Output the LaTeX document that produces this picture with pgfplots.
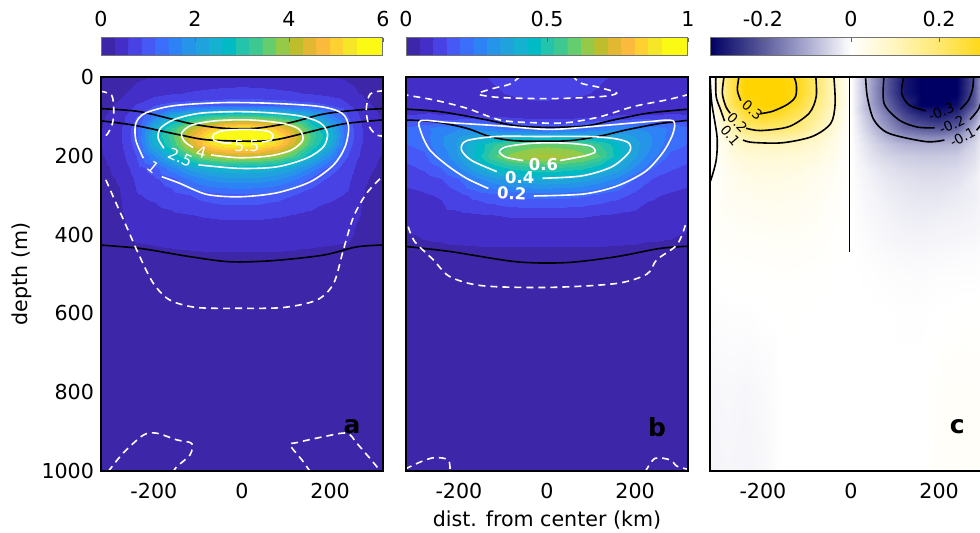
\documentclass[border=0pt]{standalone}
\usepackage{pgfplots}
\pgfplotsset{compat=1.18}
\usepackage{fontspec}
\setmainfont{DejaVu Sans}

\pgfplotsset{
  colormap={parulaB}{
    rgb255=(62,38,168) rgb255=(68,46,200) rgb255=(72,66,228) rgb255=(70,88,245)
    rgb255=(60,110,252) rgb255=(45,130,245) rgb255=(38,148,232) rgb255=(32,163,220)
    rgb255=(20,177,208) rgb255=(0,187,195) rgb255=(36,195,172) rgb255=(62,200,145)
    rgb255=(100,205,110) rgb255=(148,202,72) rgb255=(190,190,45) rgb255=(226,184,50)
    rgb255=(252,186,60) rgb255=(254,208,50) rgb255=(245,230,40) rgb255=(250,250,20)
    rgb255=(250,250,20)
  },
  colormap={bwy}{
    rgb255=(0,0,100) rgb255=(80,80,150) rgb255=(165,165,205) rgb255=(255,255,255)
    rgb255=(255,245,185) rgb255=(255,230,100) rgb255=(255,212,0)
  },
  tick label style={font=\fontsize{10.3}{12}\selectfont},
  /pgf/number format/assume math mode=true,
  /pgf/number format/1000 sep={},
  panel/.style={
    anchor=south west, scale only axis, width=141pt, height=197pt,
    xmin=-320, xmax=320, ymin=0, ymax=1000, y dir=reverse,
    xtick={-200,0,200}, ytick={0,200,400,600,800,1000},
    tick style={draw=none}, axis on top,
    axis line style={line width=0.8pt},
    xticklabel style={yshift=-2.8pt},
    colorbar horizontal,
    colorbar style={
      at={(0.5,1.0533)}, anchor=south, height=9pt,
      xticklabel pos=upper, xtick pos=upper, xtick align=inside,
      major tick length=2pt,
      tick style={draw=black!60, line width=0.4pt},
      axis line style={draw=black!55, line width=0.5pt},
      xticklabel style={yshift=2pt},
    },
  },
}
\tikzset{
  wl/.style={white, line width=0.8pt, smooth, mark=none},
  wd/.style={wl, dash pattern=on 3.5pt off 2.5pt},
  bl/.style={black, line width=0.8pt, smooth, mark=none},
  cl/.style={font=\fontsize{6.8}{8}\selectfont, inner sep=0.5pt},
}

\begin{document}
\begin{tikzpicture}
\useasboundingbox (0,0) rectangle (490pt,266.5pt);

% ---------------- panel a ----------------
\begin{axis}[panel, at={(50.5pt,31pt)},
  colormap name=parulaB, colormap access=piecewise constant,
  point meta min=0, point meta max=6,
  colorbar style={xtick={0,2,4,6}}]
\addplot[surf, shader=interp, mesh/cols=17, point meta=explicit] coordinates {
(-320,0)[0.12] (-280,0)[0.18] (-240,0)[0.25] (-200,0)[0.30] (-160,0)[0.35] (-120,0)[0.39] (-80,0)[0.42] (-40,0)[0.44] (0,0)[0.45] (40,0)[0.44] (80,0)[0.42] (120,0)[0.39] (160,0)[0.35] (200,0)[0.30] (240,0)[0.25] (280,0)[0.18] (320,0)[0.12]
(-320,40)[0.15] (-280,40)[0.24] (-240,40)[0.36] (-200,40)[0.46] (-160,40)[0.54] (-120,40)[0.59] (-80,40)[0.62] (-40,40)[0.64] (0,40)[0.65] (40,40)[0.64] (80,40)[0.62] (120,40)[0.59] (160,40)[0.54] (200,40)[0.46] (240,40)[0.36] (280,40)[0.24] (320,40)[0.15]
(-320,70)[0.20] (-280,70)[0.33] (-240,70)[0.60] (-200,70)[0.85] (-160,70)[0.97] (-120,70)[1.00] (-80,70)[1.05] (-40,70)[1.08] (0,70)[1.10] (40,70)[1.08] (80,70)[1.05] (120,70)[1.00] (160,70)[0.97] (200,70)[0.85] (240,70)[0.60] (280,70)[0.33] (320,70)[0.20]
(-320,100)[0.25] (-280,100)[0.42] (-240,100)[0.85] (-200,100)[1.55] (-160,100)[2.30] (-120,100)[2.75] (-80,100)[3.10] (-40,100)[3.25] (0,100)[3.32] (40,100)[3.25] (80,100)[3.10] (120,100)[2.75] (160,100)[2.30] (200,100)[1.55] (240,100)[0.85] (280,100)[0.42] (320,100)[0.25]
(-320,130)[0.28] (-280,130)[0.48] (-240,130)[1.02] (-200,130)[2.40] (-160,130)[3.10] (-120,130)[4.05] (-80,130)[4.75] (-40,130)[5.25] (0,130)[5.45] (40,130)[5.25] (80,130)[4.75] (120,130)[4.05] (160,130)[3.10] (200,130)[2.40] (240,130)[1.02] (280,130)[0.48] (320,130)[0.28]
(-320,150)[0.30] (-280,150)[0.50] (-240,150)[1.05] (-200,150)[2.55] (-160,150)[3.30] (-120,150)[4.40] (-80,150)[5.30] (-40,150)[5.95] (0,150)[6.05] (40,150)[5.95] (80,150)[5.30] (120,150)[4.40] (160,150)[3.30] (200,150)[2.55] (240,150)[1.05] (280,150)[0.50] (320,150)[0.30]
(-320,170)[0.29] (-280,170)[0.48] (-240,170)[0.98] (-200,170)[2.35] (-160,170)[3.15] (-120,170)[4.20] (-80,170)[5.05] (-40,170)[5.50] (0,170)[5.60] (40,170)[5.50] (80,170)[5.05] (120,170)[4.20] (160,170)[3.15] (200,170)[2.35] (240,170)[0.98] (280,170)[0.48] (320,170)[0.29]
(-320,200)[0.26] (-280,200)[0.42] (-240,200)[0.85] (-200,200)[1.70] (-160,200)[2.50] (-120,200)[3.30] (-80,200)[3.90] (-40,200)[4.10] (0,200)[4.20] (40,200)[4.10] (80,200)[3.90] (120,200)[3.30] (160,200)[2.50] (200,200)[1.70] (240,200)[0.85] (280,200)[0.42] (320,200)[0.26]
(-320,230)[0.22] (-280,230)[0.36] (-240,230)[0.70] (-200,230)[1.00] (-160,230)[1.60] (-120,230)[2.10] (-80,230)[2.40] (-40,230)[2.55] (0,230)[2.60] (40,230)[2.55] (80,230)[2.40] (120,230)[2.10] (160,230)[1.60] (200,230)[1.00] (240,230)[0.70] (280,230)[0.36] (320,230)[0.22]
(-320,260)[0.20] (-280,260)[0.31] (-240,260)[0.62] (-200,260)[0.80] (-160,260)[1.02] (-120,260)[1.45] (-80,260)[1.75] (-40,260)[1.88] (0,260)[1.92] (40,260)[1.88] (80,260)[1.75] (120,260)[1.45] (160,260)[1.02] (200,260)[0.80] (240,260)[0.62] (280,260)[0.31] (320,260)[0.20]
(-320,300)[0.17] (-280,300)[0.26] (-240,300)[0.55] (-200,300)[0.62] (-160,300)[0.72] (-120,300)[0.85] (-80,300)[0.98] (-40,300)[1.06] (0,300)[1.08] (40,300)[1.06] (80,300)[0.98] (120,300)[0.85] (160,300)[0.72] (200,300)[0.62] (240,300)[0.55] (280,300)[0.26] (320,300)[0.17]
(-320,350)[0.15] (-280,350)[0.22] (-240,350)[0.45] (-200,350)[0.48] (-160,350)[0.52] (-120,350)[0.56] (-80,350)[0.60] (-40,350)[0.62] (0,350)[0.62] (40,350)[0.62] (80,350)[0.60] (120,350)[0.56] (160,350)[0.52] (200,350)[0.48] (240,350)[0.45] (280,350)[0.22] (320,350)[0.15]
(-320,400)[0.13] (-280,400)[0.18] (-240,400)[0.33] (-200,400)[0.34] (-160,400)[0.36] (-120,400)[0.38] (-80,400)[0.39] (-40,400)[0.40] (0,400)[0.40] (40,400)[0.40] (80,400)[0.39] (120,400)[0.38] (160,400)[0.36] (200,400)[0.34] (240,400)[0.33] (280,400)[0.18] (320,400)[0.13]
(-320,450)[0.11] (-280,450)[0.14] (-240,450)[0.22] (-200,450)[0.24] (-160,450)[0.25] (-120,450)[0.26] (-80,450)[0.27] (-40,450)[0.27] (0,450)[0.27] (40,450)[0.27] (80,450)[0.27] (120,450)[0.26] (160,450)[0.25] (200,450)[0.24] (240,450)[0.22] (280,450)[0.14] (320,450)[0.11]
(-320,500)[0.10] (-280,500)[0.12] (-240,500)[0.17] (-200,500)[0.18] (-160,500)[0.19] (-120,500)[0.20] (-80,500)[0.20] (-40,500)[0.20] (0,500)[0.20] (40,500)[0.20] (80,500)[0.20] (120,500)[0.20] (160,500)[0.19] (200,500)[0.18] (240,500)[0.17] (280,500)[0.12] (320,500)[0.10]
(-320,600)[0.08] (-280,600)[0.09] (-240,600)[0.11] (-200,600)[0.12] (-160,600)[0.12] (-120,600)[0.13] (-80,600)[0.13] (-40,600)[0.13] (0,600)[0.13] (40,600)[0.13] (80,600)[0.13] (120,600)[0.13] (160,600)[0.12] (200,600)[0.12] (240,600)[0.11] (280,600)[0.09] (320,600)[0.08]
(-320,1000)[0.07] (-280,1000)[0.07] (-240,1000)[0.07] (-200,1000)[0.07] (-160,1000)[0.07] (-120,1000)[0.07] (-80,1000)[0.07] (-40,1000)[0.07] (0,1000)[0.07] (40,1000)[0.07] (80,1000)[0.07] (120,1000)[0.07] (160,1000)[0.07] (200,1000)[0.07] (240,1000)[0.07] (280,1000)[0.07] (320,1000)[0.07]
};
% black isolines
\addplot[bl] coordinates {(-330,80) (-232,88) (-118,118) (-42,130) (33,130) (109,116) (185,94) (261,84) (330,80)};
\addplot[bl] coordinates {(-330,110) (-247,122) (-141,147) (-73,160) (56,162) (140,143) (230,119) (330,108)};
\addplot[bl] coordinates {(-330,426) (-232,435) (-118,456) (-27,469) (71,466) (185,452) (261,431) (330,426)};
% white contours
\addplot[wl] coordinates {(-182,253) (-141,270) (-80,298) (-5,304) (79,294) (155,266) (208,223) (234,177) (242,126) (227,92) (177,75) (71,67) (-42,65) (-156,73) (-220,92) (-241,118) (-241,160) (-224,206)};
\addplot[wl] coordinates {(-99,223) (-5,232) (79,228) (147,206) (185,177) (194,143) (177,116) (132,99) (64,91) (-12,88) (-95,92) (-152,107) (-185,130) (-190,156) (-177,181)};
\addplot[wl] coordinates {(-70,198) (-5,205) (64,200) (113,185) (138,160) (130,133) (94,118) (18,109) (-58,111) (-114,122) (-137,143) (-130,164) (-111,179)};
\addplot[wl] coordinates {(45,165) (66,160) (70,147) (56,137) (11,133) (-42,136) (-65,147) (-64,160) (-42,167) (-24,168)};
\addplot[wd] coordinates {(-309,261) (-289,312) (-262,380) (-232,456) (-201,524) (-164,566) (-103,585) (-5,587) (94,585) (170,566) (208,524) (230,439) (253,355) (283,295) (318,253)};
\addplot[wd] coordinates {(-322,36) (-296,46) (-291,84) (-294,118) (-307,147) (-322,150)};
\addplot[wd] coordinates {(322,35) (291,43) (282,84) (289,126) (306,147) (322,150)};
\addplot[wd] coordinates {(-304,1002) (-270,955) (-224,909) (-194,904) (-148,921) (-114,930) (-118,959) (-148,989) (-156,1002)};
\addplot[wd] coordinates {(155,1002) (136,972) (109,934) (124,928) (185,913) (238,904) (261,930) (306,989) (312,1002)};
\node[text=white, font=\fontsize{7.8}{9}\selectfont] at (axis cs:11,174) {5.5};
\node[text=white, font=\fontsize{7.8}{9}\selectfont, rotate=-15] at (axis cs:-92,191) {4};
\node[text=white, font=\fontsize{7.8}{9}\selectfont, rotate=-25] at (axis cs:-140,204) {2.5};
\node[text=white, font=\fontsize{7.8}{9}\selectfont, rotate=-40] at (axis cs:-202,230) {1};
\node[font=\bfseries\fontsize{12.5}{14}\selectfont] at (axis cs:250,888) {a};
\end{axis}

% ---------------- panel b ----------------
\begin{axis}[panel, at={(203pt,31pt)}, yticklabels={},
  colormap name=parulaB, colormap access=piecewise constant,
  point meta min=0, point meta max=1,
  colorbar style={xtick={0,0.5,1}}]
\addplot[surf, shader=interp, mesh/cols=17, point meta=explicit] coordinates {
(-320,0)[0.05] (-280,0)[0.06] (-240,0)[0.07] (-200,0)[0.08] (-160,0)[0.09] (-120,0)[0.10] (-80,0)[0.11] (-40,0)[0.12] (0,0)[0.12] (40,0)[0.12] (80,0)[0.11] (120,0)[0.10] (160,0)[0.09] (200,0)[0.08] (240,0)[0.07] (280,0)[0.06] (320,0)[0.05]
(-320,40)[0.05] (-280,40)[0.06] (-240,40)[0.06] (-200,40)[0.07] (-160,40)[0.08] (-120,40)[0.09] (-80,40)[0.10] (-40,40)[0.11] (0,40)[0.12] (40,40)[0.11] (80,40)[0.10] (120,40)[0.09] (160,40)[0.08] (200,40)[0.07] (240,40)[0.06] (280,40)[0.06] (320,40)[0.05]
(-320,70)[0.05] (-280,70)[0.05] (-240,70)[0.06] (-200,70)[0.06] (-160,70)[0.07] (-120,70)[0.07] (-80,70)[0.08] (-40,70)[0.08] (0,70)[0.08] (40,70)[0.08] (80,70)[0.08] (120,70)[0.07] (160,70)[0.07] (200,70)[0.06] (240,70)[0.06] (280,70)[0.05] (320,70)[0.05]
(-320,100)[0.10] (-280,100)[0.11] (-240,100)[0.10] (-200,100)[0.10] (-160,100)[0.10] (-120,100)[0.09] (-80,100)[0.08] (-40,100)[0.07] (0,100)[0.07] (40,100)[0.07] (80,100)[0.08] (120,100)[0.09] (160,100)[0.10] (200,100)[0.10] (240,100)[0.10] (280,100)[0.11] (320,100)[0.10]
(-320,130)[0.20] (-280,130)[0.23] (-240,130)[0.26] (-200,130)[0.28] (-160,130)[0.27] (-120,130)[0.24] (-80,130)[0.21] (-40,130)[0.19] (0,130)[0.18] (40,130)[0.19] (80,130)[0.21] (120,130)[0.24] (160,130)[0.27] (200,130)[0.28] (240,130)[0.26] (280,130)[0.23] (320,130)[0.20]
(-320,150)[0.20] (-280,150)[0.22] (-240,150)[0.28] (-200,150)[0.33] (-160,150)[0.36] (-120,150)[0.38] (-80,150)[0.39] (-40,150)[0.39] (0,150)[0.39] (40,150)[0.39] (80,150)[0.39] (120,150)[0.38] (160,150)[0.36] (200,150)[0.33] (240,150)[0.28] (280,150)[0.22] (320,150)[0.20]
(-320,170)[0.19] (-280,170)[0.21] (-240,170)[0.28] (-200,170)[0.35] (-160,170)[0.44] (-120,170)[0.52] (-80,170)[0.57] (-40,170)[0.59] (0,170)[0.60] (40,170)[0.59] (80,170)[0.57] (120,170)[0.52] (160,170)[0.44] (200,170)[0.35] (240,170)[0.28] (280,170)[0.21] (320,170)[0.19]
(-320,200)[0.16] (-280,200)[0.18] (-240,200)[0.25] (-200,200)[0.34] (-160,200)[0.45] (-120,200)[0.57] (-80,200)[0.64] (-40,200)[0.67] (0,200)[0.68] (40,200)[0.67] (80,200)[0.64] (120,200)[0.57] (160,200)[0.45] (200,200)[0.34] (240,200)[0.25] (280,200)[0.18] (320,200)[0.16]
(-320,230)[0.13] (-280,230)[0.15] (-240,230)[0.19] (-200,230)[0.28] (-160,230)[0.37] (-120,230)[0.44] (-80,230)[0.49] (-40,230)[0.51] (0,230)[0.52] (40,230)[0.51] (80,230)[0.49] (120,230)[0.44] (160,230)[0.37] (200,230)[0.28] (240,230)[0.19] (280,230)[0.15] (320,230)[0.13]
(-320,260)[0.11] (-280,260)[0.12] (-240,260)[0.14] (-200,260)[0.19] (-160,260)[0.27] (-120,260)[0.32] (-80,260)[0.36] (-40,260)[0.38] (0,260)[0.39] (40,260)[0.38] (80,260)[0.36] (120,260)[0.32] (160,260)[0.27] (200,260)[0.19] (240,260)[0.14] (280,260)[0.12] (320,260)[0.11]
(-320,300)[0.08] (-280,300)[0.09] (-240,300)[0.10] (-200,300)[0.13] (-160,300)[0.16] (-120,300)[0.18] (-80,300)[0.20] (-40,300)[0.21] (0,300)[0.21] (40,300)[0.21] (80,300)[0.20] (120,300)[0.18] (160,300)[0.16] (200,300)[0.13] (240,300)[0.10] (280,300)[0.09] (320,300)[0.08]
(-320,350)[0.06] (-280,350)[0.07] (-240,350)[0.08] (-200,350)[0.085] (-160,350)[0.09] (-120,350)[0.095] (-80,350)[0.10] (-40,350)[0.10] (0,350)[0.10] (40,350)[0.10] (80,350)[0.10] (120,350)[0.095] (160,350)[0.09] (200,350)[0.085] (240,350)[0.08] (280,350)[0.07] (320,350)[0.06]
(-320,400)[0.045] (-280,400)[0.05] (-240,400)[0.052] (-200,400)[0.055] (-160,400)[0.058] (-120,400)[0.06] (-80,400)[0.06] (-40,400)[0.06] (0,400)[0.06] (40,400)[0.06] (80,400)[0.06] (120,400)[0.06] (160,400)[0.058] (200,400)[0.055] (240,400)[0.052] (280,400)[0.05] (320,400)[0.045]
(-320,450)[0.035] (-280,450)[0.04] (-240,450)[0.04] (-200,450)[0.04] (-160,450)[0.04] (-120,450)[0.04] (-80,450)[0.04] (-40,450)[0.04] (0,450)[0.04] (40,450)[0.04] (80,450)[0.04] (120,450)[0.04] (160,450)[0.04] (200,450)[0.04] (240,450)[0.04] (280,450)[0.04] (320,450)[0.035]
(-320,500)[0.03] (-280,500)[0.03] (-240,500)[0.03] (-200,500)[0.03] (-160,500)[0.03] (-120,500)[0.03] (-80,500)[0.03] (-40,500)[0.03] (0,500)[0.03] (40,500)[0.03] (80,500)[0.03] (120,500)[0.03] (160,500)[0.03] (200,500)[0.03] (240,500)[0.03] (280,500)[0.03] (320,500)[0.03]
(-320,600)[0.02] (-280,600)[0.02] (-240,600)[0.02] (-200,600)[0.02] (-160,600)[0.02] (-120,600)[0.02] (-80,600)[0.02] (-40,600)[0.02] (0,600)[0.02] (40,600)[0.02] (80,600)[0.02] (120,600)[0.02] (160,600)[0.02] (200,600)[0.02] (240,600)[0.02] (280,600)[0.02] (320,600)[0.02]
(-320,1000)[0.015] (-280,1000)[0.015] (-240,1000)[0.015] (-200,1000)[0.015] (-160,1000)[0.015] (-120,1000)[0.015] (-80,1000)[0.015] (-40,1000)[0.015] (0,1000)[0.015] (40,1000)[0.015] (80,1000)[0.015] (120,1000)[0.015] (160,1000)[0.015] (200,1000)[0.015] (240,1000)[0.015] (280,1000)[0.015] (320,1000)[0.015]
};
\addplot[bl] coordinates {(-330,81) (-243,88) (-145,107) (-69,124) (7,128) (90,124) (151,109) (234,91) (330,81)};
\addplot[bl] coordinates {(-330,109) (-258,113) (-183,130) (-130,151) (-69,162) (45,162) (120,150) (181,134) (257,118) (330,109)};
\addplot[bl] coordinates {(-330,429) (-220,443) (-69,469) (45,471) (158,456) (257,435) (330,429)};
\addplot[wl] coordinates {(-30,302) (83,297) (158,277) (223,240) (264,190) (286,143) (286,111) (234,113) (120,124) (7,133) (-107,124) (-220,116) (-287,111) (-285,143) (-266,185) (-228,223) (-183,257) (-133,283)};
\addplot[wl] coordinates {(-10,257) (79,251) (147,228) (187,190) (185,167) (151,156) (90,151) (-16,151) (-114,151) (-183,162) (-194,185) (-171,212) (-114,240)};
\addplot[wl] coordinates {(30,212) (86,200) (109,190) (98,175) (45,168) (-31,168) (-92,177) (-108,190) (-92,204) (-54,212)};
\addplot[wd] coordinates {(-61,-2) (-84,18) (-122,29) (-156,43) (-107,52) (7,55) (120,50) (158,41) (117,26) (75,15) (60,-2)};
\addplot[wd] coordinates {(-330,44) (-258,58) (-183,79) (-107,109) (-31,116) (45,116) (120,101) (196,75) (272,58) (330,42)};
\addplot[wd] coordinates {(-315,380) (-300,418) (-258,464) (-220,507) (-145,530) (7,534) (158,524) (227,500) (249,464) (295,426) (314,376)};
\addplot[wd] coordinates {(-322,995) (-285,976) (-255,966) (-224,972) (-220,1002)};
\addplot[wd] coordinates {(223,1002) (245,968) (280,972) (295,988) (322,996)};
\node[text=white, font=\bfseries\fontsize{8.2}{10}\selectfont] at (axis cs:-8,221) {0.6};
\node[text=white, font=\bfseries\fontsize{8.2}{10}\selectfont] at (axis cs:-62,254) {0.4};
\node[text=white, font=\bfseries\fontsize{8.2}{10}\selectfont, rotate=-3] at (axis cs:-80,296) {0.2};
\node[font=\bfseries\fontsize{12.5}{14}\selectfont] at (axis cs:250,888) {b};
\end{axis}

% ---------------- panel c ----------------
\begin{axis}[panel, at={(355pt,31pt)}, yticklabels={},
  colormap name=bwy,
  point meta min=-0.32, point meta max=0.32,
  colorbar style={xtick={-0.2,0,0.2}}]
\addplot[surf, shader=interp, mesh/cols=17, point meta=explicit] coordinates {
(-320,0)[-0.02] (-280,0)[0.21] (-240,0)[0.33] (-200,0)[0.40] (-160,0)[0.38] (-120,0)[0.29] (-80,0)[0.20] (-40,0)[0.10] (0,0)[0] (40,0)[-0.10] (80,0)[-0.20] (120,0)[-0.29] (160,0)[-0.38] (200,0)[-0.40] (240,0)[-0.33] (280,0)[-0.21] (320,0)[0.02]
(-320,40)[-0.02] (-280,40)[0.21] (-240,40)[0.34] (-200,40)[0.40] (-160,40)[0.38] (-120,40)[0.29] (-80,40)[0.20] (-40,40)[0.10] (0,40)[0] (40,40)[-0.10] (80,40)[-0.20] (120,40)[-0.29] (160,40)[-0.38] (200,40)[-0.40] (240,40)[-0.34] (280,40)[-0.21] (320,40)[0.02]
(-320,70)[-0.02] (-280,70)[0.20] (-240,70)[0.30] (-200,70)[0.35] (-160,70)[0.32] (-120,70)[0.26] (-80,70)[0.18] (-40,70)[0.10] (0,70)[0] (40,70)[-0.10] (80,70)[-0.18] (120,70)[-0.26] (160,70)[-0.32] (200,70)[-0.35] (240,70)[-0.30] (280,70)[-0.20] (320,70)[0.02]
(-320,100)[-0.02] (-280,100)[0.14] (-240,100)[0.25] (-200,100)[0.28] (-160,100)[0.26] (-120,100)[0.22] (-80,100)[0.15] (-40,100)[0.08] (0,100)[0] (40,100)[-0.08] (80,100)[-0.15] (120,100)[-0.22] (160,100)[-0.26] (200,100)[-0.28] (240,100)[-0.25] (280,100)[-0.14] (320,100)[0.02]
(-320,130)[-0.02] (-280,130)[0.09] (-240,130)[0.19] (-200,130)[0.21] (-160,130)[0.20] (-120,130)[0.18] (-80,130)[0.12] (-40,130)[0.065] (0,130)[0] (40,130)[-0.065] (80,130)[-0.12] (120,130)[-0.18] (160,130)[-0.20] (200,130)[-0.21] (240,130)[-0.19] (280,130)[-0.09] (320,130)[0.02]
(-320,150)[-0.015] (-280,150)[0.07] (-240,150)[0.13] (-200,150)[0.15] (-160,150)[0.145] (-120,150)[0.13] (-80,150)[0.095] (-40,150)[0.05] (0,150)[0] (40,150)[-0.05] (80,150)[-0.095] (120,150)[-0.13] (160,150)[-0.145] (200,150)[-0.15] (240,150)[-0.13] (280,150)[-0.07] (320,150)[0.015]
(-320,170)[-0.012] (-280,170)[0.05] (-240,170)[0.09] (-200,170)[0.095] (-160,170)[0.095] (-120,170)[0.09] (-80,170)[0.07] (-40,170)[0.04] (0,170)[0] (40,170)[-0.04] (80,170)[-0.07] (120,170)[-0.09] (160,170)[-0.095] (200,170)[-0.095] (240,170)[-0.09] (280,170)[-0.05] (320,170)[0.012]
(-320,200)[-0.01] (-280,200)[0.04] (-240,200)[0.06] (-200,200)[0.065] (-160,200)[0.065] (-120,200)[0.06] (-80,200)[0.05] (-40,200)[0.03] (0,200)[0] (40,200)[-0.03] (80,200)[-0.05] (120,200)[-0.06] (160,200)[-0.065] (200,200)[-0.065] (240,200)[-0.06] (280,200)[-0.04] (320,200)[0.01]
(-320,230)[-0.008] (-280,230)[0.03] (-240,230)[0.045] (-200,230)[0.05] (-160,230)[0.05] (-120,230)[0.045] (-80,230)[0.035] (-40,230)[0.02] (0,230)[0] (40,230)[-0.02] (80,230)[-0.035] (120,230)[-0.045] (160,230)[-0.05] (200,230)[-0.05] (240,230)[-0.045] (280,230)[-0.03] (320,230)[0.008]
(-320,260)[-0.005] (-280,260)[0.02] (-240,260)[0.035] (-200,260)[0.04] (-160,260)[0.04] (-120,260)[0.035] (-80,260)[0.027] (-40,260)[0.015] (0,260)[0] (40,260)[-0.015] (80,260)[-0.027] (120,260)[-0.035] (160,260)[-0.04] (200,260)[-0.04] (240,260)[-0.035] (280,260)[-0.02] (320,260)[0.005]
(-320,300)[0.005] (-280,300)[0.02] (-240,300)[0.025] (-200,300)[0.03] (-160,300)[0.03] (-120,300)[0.027] (-80,300)[0.02] (-40,300)[0.011] (0,300)[0] (40,300)[-0.011] (80,300)[-0.02] (120,300)[-0.027] (160,300)[-0.03] (200,300)[-0.03] (240,300)[-0.025] (280,300)[-0.02] (320,300)[-0.005]
(-320,350)[0.005] (-280,350)[0.015] (-240,350)[0.018] (-200,350)[0.02] (-160,350)[0.022] (-120,350)[0.02] (-80,350)[0.015] (-40,350)[0.008] (0,350)[0] (40,350)[-0.008] (80,350)[-0.015] (120,350)[-0.02] (160,350)[-0.022] (200,350)[-0.02] (240,350)[-0.018] (280,350)[-0.015] (320,350)[-0.005]
(-320,400)[0.003] (-280,400)[0.01] (-240,400)[0.012] (-200,400)[0.013] (-160,400)[0.015] (-120,400)[0.014] (-80,400)[0.01] (-40,400)[0.005] (0,400)[0] (40,400)[-0.005] (80,400)[-0.01] (120,400)[-0.014] (160,400)[-0.015] (200,400)[-0.013] (240,400)[-0.012] (280,400)[-0.01] (320,400)[-0.003]
(-320,450)[0.002] (-280,450)[0.005] (-240,450)[0.006] (-200,450)[0.007] (-160,450)[0.009] (-120,450)[0.008] (-80,450)[0.006] (-40,450)[0.003] (0,450)[0] (40,450)[-0.003] (80,450)[-0.006] (120,450)[-0.008] (160,450)[-0.009] (200,450)[-0.007] (240,450)[-0.006] (280,450)[-0.005] (320,450)[-0.002]
(-320,500)[0] (-280,500)[0.003] (-240,500)[0.003] (-200,500)[0.003] (-160,500)[0.005] (-120,500)[0.004] (-80,500)[0.003] (-40,500)[0.001] (0,500)[0] (40,500)[-0.001] (80,500)[-0.003] (120,500)[-0.004] (160,500)[-0.005] (200,500)[-0.003] (240,500)[-0.003] (280,500)[-0.003] (320,500)[0]
(-320,600)[-0.004] (-280,600)[-0.002] (-240,600)[-0.002] (-200,600)[0] (-160,600)[0.001] (-120,600)[0.001] (-80,600)[0] (-40,600)[0] (0,600)[0] (40,600)[0] (80,600)[0] (120,600)[-0.001] (160,600)[-0.001] (200,600)[0] (240,600)[0.002] (280,600)[0.002] (320,600)[0.004]
(-320,800)[-0.01] (-280,800)[-0.008] (-240,800)[-0.01] (-200,800)[-0.007] (-160,800)[0] (-120,800)[0] (-80,800)[0] (-40,800)[0] (0,800)[0] (40,800)[0] (80,800)[0] (120,800)[0] (160,800)[0] (200,800)[0.007] (240,800)[0.01] (280,800)[0.008] (320,800)[0.01]
(-320,1000)[-0.012] (-280,1000)[-0.01] (-240,1000)[-0.012] (-200,1000)[-0.009] (-160,1000)[0] (-120,1000)[0] (-80,1000)[0] (-40,1000)[0] (0,1000)[0] (40,1000)[0] (80,1000)[0] (120,1000)[0] (160,1000)[0] (200,1000)[0.009] (240,1000)[0.012] (280,1000)[0.01] (320,1000)[0.012]
};
\addplot[black, line width=0.8pt, mark=none] coordinates {(-3,-2) (-3,443)};
\addplot[bl] coordinates {(-320,-2) (-316,66) (-304,152) (-306,211) (-318,261) (-325,275)};
\addplot[bl] coordinates {(-254,-2) (-258,33) (-250,60)};
\addplot[bl] coordinates {(-205,93) (-178,87) (-145,70) (-126,50) (-124,20) (-130,-2)};
\addplot[bl] coordinates {(-288,-2) (-292,41) (-284,75) (-274,92)};
\addplot[bl] coordinates {(-238,130) (-205,136) (-141,126) (-95,92) (-79,50) (-80,-2)};
\addplot[bl] coordinates {(-307,-2) (-306,50) (-296,83) (-287,112)};
\addplot[bl] coordinates {(-245,160) (-224,166) (-156,167) (-88,151) (-46,118) (-36,67) (-39,-2)};
\addplot[bl] coordinates {(120,-2) (115,41) (132,71) (170,86)};
\addplot[bl] coordinates {(248,82) (266,60) (276,30) (278,-2)};
\addplot[bl] coordinates {(75,-2) (75,67) (109,109) (150,127) (190,129)};
\addplot[bl] coordinates {(270,108) (290,80) (300,40) (302,-2)};
\addplot[bl] coordinates {(33,-2) (37,50) (52,109) (86,143) (170,164) (212,160)};
\addplot[bl] coordinates {(285,135) (305,105) (318,60) (322,-2)};
\node[cl, rotate=-40] at (axis cs:-224,84) {0.3};
\node[cl, rotate=-45] at (axis cs:-258,116) {0.2};
\node[cl, rotate=-50] at (axis cs:-274,148) {0.1};
\node[cl, rotate=22] at (axis cs:205,88) {-0.3};
\node[cl, rotate=25] at (axis cs:229,121) {-0.2};
\node[cl, rotate=28] at (axis cs:253,153) {-0.1};
\node[font=\bfseries\fontsize{12.5}{14}\selectfont] at (axis cs:241,888) {c};
\end{axis}

\node[rotate=90, font=\fontsize{10.3}{12}\selectfont] at (11pt,129.5pt) {depth (m)};
\node[font=\fontsize{10.3}{12}\selectfont] at (273.5pt,6.5pt) {dist. from center (km)};
\end{tikzpicture}
\end{document}
